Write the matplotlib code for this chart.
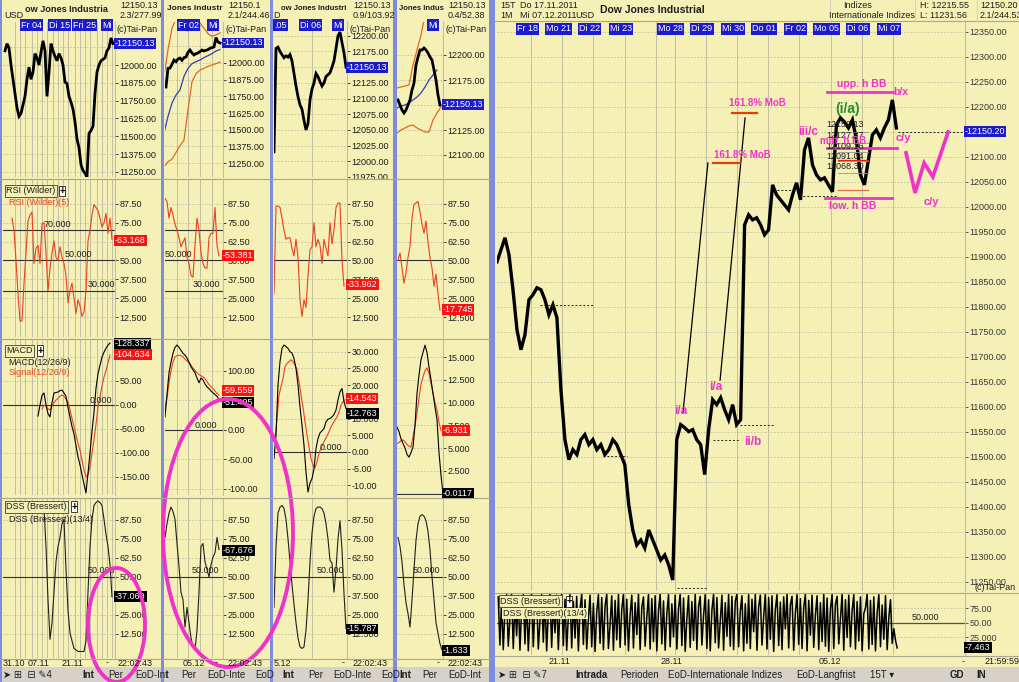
import matplotlib
matplotlib.use('Agg')
import matplotlib.pyplot as plt
from matplotlib.patches import Ellipse, Rectangle
import numpy as np

plt.rcParams['font.family'] = ['Liberation Sans', 'DejaVu Sans']

# ---------------- data ----------------
# column 1 (long intraday view)
c1_price = [12100, 12150, 12120, 12000, 11900, 11800, 11700, 11640, 11660, 11720, 11780, 11900, 11985, 11900,
            11950, 12080, 12050, 12000, 12090, 12170, 12100, 11780, 11950, 12150, 12100, 12060, 12030, 12080,
            12050, 12000, 11880, 11870, 11780, 11740, 11690, 11600, 11480, 11420, 11300, 11260, 11240, 11215,
            11520, 11540, 11570, 11800, 11950, 12000, 12030, 12040, 12050, 12100, 12120, 12190, 12150]
c1_rsi = [78, 70, 50, 28, 10, 10, 35, 55, 76, 80, 82, 48, 58, 60, 48, 74, 75, 55, 30, 45, 55, 63, 52, 50, 59,
          52, 48, 40, 22, 30, 35, 25, 15, 24, 20, 13, 16, 30, 63, 70, 80, 87, 85, 83, 78, 72, 75, 81, 68, 78, 64]
c1_macd = [-23, 0, 20, 25, 0, -18, -25, 5, 25, 26, 27, 30, 31, 25, 18, -5, -25, -45, -60, -85, -108, -125,
           -145, -165, -183, -142, -100, -55, -15, 35, 65, 83, 100, 110, 118, 125, 129]
c1_signal = [-8, 0, -3, -8, -10, -2, 5, 10, 14, 18, 21, 18, 12, 6, -10, -28, -45, -62, -80, -94, -115, -135,
             -150, -145, -129, -100, -72, -40, -5, 17, 40, 58, 72, 88, 104]
c1_dss = [95, 70, 35, 9, 20, 40, 60, 70, 76, 85, 88, 55, 28, 13, 8, 3, 2, 1, 1, 1, 1, 8, 40, 70, 88, 97, 99,
          100, 99, 97, 88, 78, 70, 58, 37]

# column 2
c2_price = [11820, 11960, 11962, 11990, 12022, 12010, 12030, 12037, 12020, 12040, 12045, 12080, 12097, 12075,
            12060, 12070, 12075, 12085, 12097, 12090, 12095, 12100, 12110, 12115, 12120, 12190, 12157, 12150]
c2_ma = [11476, 11600, 11700, 11760, 11798, 11900, 11960, 11995, 12010, 12022, 12040, 12055, 12070, 12090, 12100]
c2_lower = [11221, 11260, 11280, 11330, 11380, 11423, 11648, 11860, 11920, 11947, 11960, 11975, 11985, 11995, 12007]
c2_upper = [11895, 12100, 12260, 12330, 12320, 12250, 12240, 12280, 12320, 12300, 12260, 12220, 12200, 12210, 12225]
c2_rsi = [91, 89, 78, 85, 80, 74, 70, 65, 59, 62, 65, 52, 48, 40, 39, 60, 78, 70, 55, 48, 45, 45, 65, 68, 68,
          85, 60, 53]
c2_macd = [22, 60, 97, 115, 130, 140, 144, 140, 135, 130, 127, 122, 115, 107, 102, 97, 88, 80, 88, 85, 78, 73,
           70, 66, 63, 60, 57, 52]
c2_signal = [34, 55, 80, 100, 115, 124, 126, 127, 126, 124, 120, 117, 114, 110, 105, 101, 97, 94, 92, 90, 87,
             82, 77, 73, 70, 66, 62, 59]
c2_dss = [76, 85, 92, 96, 93, 88, 72, 57, 40, 35, 17, 30, 20, 10, 4, 2, 15, 40, 70, 72, 60, 55, 50, 58, 63, 66,
          76, 68]

# column 3
c3_price = [12015, 12180, 12182, 12175, 12170, 12165, 12168, 12166, 12170, 12160, 12140, 12120, 12103, 12090,
            12083, 12065, 12050, 12060, 12098, 12115, 12125, 12140, 12135, 12127, 12120, 12125, 12135, 12138,
            12141, 12150, 12160, 12180, 12200, 12206, 12189, 12173, 12150]
c3_rsi = [28, 86, 86, 85, 78, 70, 64, 65, 65, 58, 53, 64, 52, 24, 13, 24, 19, 40, 57, 59, 75, 59, 64, 60, 48,
          64, 58, 53, 75, 61, 70, 85, 88, 88, 50, 33]
c3_macd = [-2, 5, 20, 27, 31, 32, 31.5, 31, 30, 29.6, 28, 25, 20, 13.5, 8, 2, -6, -12, -9.3, -8, -5, 1, 4, 5.7,
           6.3, 7, 9, 9.8, 10, 10.5, 11.2, 12.5, 15.6, 18, 19, 15, 13]
c3_signal = [3.6, 10, 17, 19.5, 22, 25.5, 26.5, 27, 27.6, 27, 26, 24.6, 21, 17, 13.5, 9, 5, 1.5, -2, -4, -4.8,
             -3, -0.3, 1, 2.5, 3.6, 4.8, 6, 7.5, 8.5, 9.5, 10.5, 12, 14, 15, 15.6]
c3_dss = [30, 70, 92, 96, 97, 95, 88, 75, 60, 45, 32, 20, 10, 4, 3, 4, 15, 35, 60, 79, 90, 95, 96, 96, 95, 92,
          85, 75, 61, 59, 40, 55, 75, 87, 68, 39, 16]

# column 4
c4_price = [12155, 12150, 12145, 12142, 12145, 12150, 12155, 12165, 12172, 12190, 12198, 12205, 12205, 12207,
            12205, 12202, 12198, 12195, 12185, 12175, 12160, 12150]
c4_ma = [12147, 12149, 12150, 12152, 12155, 12158, 12162, 12168, 12175, 12180, 12185]
c4_upper = [12167, 12168, 12169, 12170, 12190, 12205, 12220, 12240]
c4_lower = [12122, 12125, 12127, 12129, 12130, 12127, 12125, 12123, 12123, 12135, 12142, 12148]
c4_rsi = [50, 55, 45, 35, 42, 52, 59, 78, 87, 88, 89, 82, 74, 68, 76, 62, 52, 45, 33, 41, 28, 17]
c4_macd = [7.3, 6.8, 6.0, 5.5, 5.0, 4.3, 4.0, 4.5, 5.1, 7.5, 11, 13, 14.7, 15.5, 16.3, 15.5, 13.9, 12.5, 11,
           9.5, 8.1, 4.5, 2.0, 0]
c4_signal = [5.5, 5.6, 5.8, 5.9, 5.7, 5.4, 5.2, 5.1, 6.2, 7.5, 8.8, 10.5, 12.0, 12.8, 13.5, 13.8, 13.2, 12.1,
             11.0, 10.0, 9.2, 7.8, 6.9]
c4_dss = [76, 70, 60, 45, 33, 26, 17, 35, 55, 74, 85, 90, 91, 90, 87, 80, 68, 50, 35, 20, 13, 6, 2]

# big 15-minute chart (x in trading days, Fr 18 = 0)
big_price = [11890, 11914, 11938, 11904, 11834, 11754, 11714, 11744, 11814, 11824, 11838, 11834, 11814, 11784,
             11804, 11778, 11634, 11534, 11494, 11514, 11504, 11534, 11544, 11524, 11534, 11514, 11524, 11504,
             11514, 11534, 11524, 11504, 11484, 11403, 11353, 11323, 11333, 11317, 11353, 11333, 11313, 11293,
             11303, 11283, 11253, 11534, 11564, 11558, 11550, 11554, 11534, 11524, 11464, 11554, 11614, 11604,
             11618, 11594, 11574, 11604, 11564, 11574, 11964, 11984, 11974, 11978, 11964, 11944, 11954, 12044,
             12024, 12014, 12004, 11994, 12024, 12048, 12014, 12114, 12138, 12084, 12064, 12054, 12058, 12044,
             12030, 12164, 12178, 12170, 12158, 12174, 12134, 12064, 12044, 12094, 12144, 12154, 12138, 12158,
             12174, 12214, 12158]
big_dss = [95, 12, 90, 4, 72, 99, 10, 58, 100, 6, 88, 28, 97, 3, 76, 99, 14, 92, 2, 66,
           100, 9, 82, 96, 5, 54, 99, 17, 93, 2, 70, 100, 8, 86, 33, 98, 4, 79, 100, 11,
           91, 3, 62, 99, 7, 87, 24, 96, 2, 74, 100, 13, 90, 5, 57, 98, 9, 84, 1, 69,
           99, 15, 94, 4, 80, 100, 6, 47, 97, 3, 89, 21, 99, 8, 73, 100, 12, 91, 2, 64,
           98, 7, 85, 30, 100, 4, 77, 95, 10, 60, 99, 5, 92, 18, 97, 2, 71, 100, 14, 88,
           3, 66, 99, 9, 83, 26, 98, 5, 75, 100, 11, 93, 1, 58, 97, 8, 87, 20, 100, 4,
           79, 96, 12, 63, 99, 6, 90, 2, 72, 100, 16, 94, 7, 52, 98, 3, 85, 27, 99, 10,
           96, 4, 88, 100, 9, 70, 97, 2, 83, 15, 99, 6, 91, 35, 100, 3, 78, 98, 12, 61,
           100, 5, 94, 22, 97, 1, 73, 99, 11, 86, 4, 95, 40, 100, 7, 81, 96, 3, 68, 99,
           13, 92, 6, 77, 100, 2, 89, 29, 98, 8, 64, 97, 4, 85, 18, 100, 10, 93, 1, 74,
           99, 6, 82, 96, 14, 57, 100, 3, 90, 25, 98, 9, 71, 99, 5, 87, 19, 95, 2, 66,
           76, 100, 5, 89, 13, 95, 2, 68, 99, 9, 81, 22, 97, 4, 60, 90, 15, 40, 20, 7]
big_days = ['Fr 18', 'Mo 21', 'Di 22', 'Mi 23', 'Mo 28', 'Di 29', 'Mi 30', 'Do 01', 'Fr 02', 'Mo 05',
            'Di 06', 'Mi 07']
big_day_starts = [0, 1, 2, 3, 4.6, 5.6, 6.6, 7.6, 8.6, 9.6, 10.6, 11.6]
big_grid_days = [0, 1, 2, 3, 4, 4.6, 5.6, 6.6, 7.6, 8.6, 9.6, 10.6, 11.6]
fib_levels = [12150.13, 12127.87, 12109.16, 12091.04, 12068.30]
mob_levels = [12188, 12088]
bb_upper, bb_mid, bb_lower = 12230, 12118, 12018
w_path_x = [12.02, 12.31, 12.60, 12.88, 13.37]
w_path_y = [12108, 12028, 12088, 12060, 12150]

rsi_ticks = [87.5, 75, 62.5, 50, 37.5, 25, 12.5]
rsi_labels = ['87.50', '75.00', '62.50', '50.00', '37.500', '25.000', '12.500']

# ---------------- style ----------------
W, H = 1019, 682
BG = '#f4f0b6'
GRID = '#c2bea4'
TXT = '#1e1e1e'
RED = '#e8421e'
SEP = '#7e8ce0'
MAG = '#f032c8'
BLUEBOX = '#1c1ccc'
FS = 6.5

fig = plt.figure(figsize=(W / 100, H / 100), dpi=100, facecolor=BG)


def px_axes(x0, y0, x1, y1, z=1):
    return fig.add_axes([x0 / W, 1 - y1 / H, (x1 - x0) / W, (y1 - y0) / H], zorder=z)


def hide(labels, ticks, hidden):
    return ['' if tk in hidden else lb for tk, lb in zip(ticks, labels)]


def panel(x0, y0, x1, y1, xlim, ylim, ticks, labels, vlines):
    ax = px_axes(x0, y0, x1, y1)
    ax.set_facecolor(BG)
    ax.set_xlim(*xlim)
    ax.set_ylim(*ylim)
    for s in ('top', 'left', 'bottom'):
        ax.spines[s].set_visible(False)
    ax.spines['right'].set_color(GRID)
    ax.spines['right'].set_linewidth(0.8)
    ax.set_xticks([])
    ax.yaxis.tick_right()
    ax.set_yticks(ticks)
    ax.set_yticklabels(labels)
    ax.tick_params(axis='y', length=2, width=0.6, pad=1, labelsize=FS, colors=TXT)
    for v in vlines:
        ax.axvline(v, color=GRID, lw=0.7, zorder=0)
    for tk in ticks:
        ax.axhline(tk, color=GRID, lw=0.6, ls=(0, (2, 2)), zorder=0)
    return ax


def xs(start, step, vals):
    return start + step * np.arange(len(vals))


def vbox(ax, y, txt, fc):
    ax.text(1.0, y, txt, transform=ax.get_yaxis_transform(), ha='left', va='center', fontsize=FS,
            color='white', bbox=dict(boxstyle='square,pad=0.1', fc=fc, ec='none'), clip_on=False, zorder=6)


def legend_box(ax, x, y, txt, plus_px):
    ax.text(x, y, txt, transform=ax.transAxes, fontsize=FS, color=TXT, va='center', ha='left',
            bbox=dict(boxstyle='square,pad=0.15', fc=BG, ec='#404040', lw=0.6), zorder=6)
    ax.annotate('+', xy=(x, y), xycoords='axes fraction', xytext=(plus_px, 0), textcoords='offset pixels',
                fontsize=7, fontweight='bold', va='center', ha='left', zorder=6,
                bbox=dict(boxstyle='square,pad=0.05', fc='white', ec='#202020', lw=0.6))


PY = (22, 177)
RY = (180, 337)
MY = (340, 495)
DY = (499, 658)

columns = [
    dict(x=(3, 115), pylim=(11214, 12302), pticks=[12125, 12000, 11875, 11750, 11625, 11500, 11375, 11250],
         phide=[12125], price=(5, 2, c1_price), rsi=(12, 2, c1_rsi), macd=(38, 2, c1_macd), sig=(42, 2, c1_signal),
         dss=(44, 2, c1_dss), mylim=(-187.5, 135.4),
         mticks=[100, 50, 0, -50, -100, -150], mlabels=['100.00', '50.00', '0.00', '-50.00', '-100.00', '-150.00'],
         mhide=[100], rhide=[62.5], dhide=[37.5],
         vlines=[15, 20, 25, 32, 37, 42, 47, 53, 58, 63, 68, 75, 80, 85, 90, 97, 102, 107, 112],
         rsi_levels=[70, 50, 30], rsi_lab=[(44, 70, '70.000'), (65, 50, '50.000'), (88, 30, '30.000')],
         mlab=90, dlab=88, pbox=12150.13, rbox=(63.168, '-63.168'),
         mbox=[(128.337, '-128.337', 'black'), (104.634, '-104.634', 'red')], dbox=(37.069, '-37.069'),
         legends=True),
    dict(x=(165, 223), pylim=(11146, 12307), pticks=[12125, 12000, 11875, 11750, 11625, 11500, 11375, 11250],
         phide=[12125], price=(166, 2, c2_price), rsi=(165, 2, c2_rsi), macd=(165, 2, c2_macd),
         sig=(165, 2, c2_signal), dss=(165, 2, c2_dss), mylim=(-110.2, 152.5),
         mticks=[100, 50, 0, -50, -100], mlabels=['100.00', '50.00', '0.00', '-50.00', '-100.00'],
         mhide=[50], rhide=[], dhide=[],
         vlines=[177, 188, 200, 212], rsi_levels=[70, 50, 30],
         rsi_lab=[(165, 50, '50.000'), (193, 30, '30.000')], mlab=195, dlab=192, pbox=12150.13,
         rbox=(53.381, '-53.381'), mbox=[(67, '-59.559', 'red'), (46, '-51.495', 'black')],
         dbox=(67.676, '-67.676'), legends=False,
         bands=[(164, 4, c2_upper, '#e06a20'), (164, 4, c2_lower, '#e06a20'), (164, 4, c2_ma, '#3040b0')]),
    dict(x=(274, 347), pylim=(11977, 12222),
         pticks=[12200, 12175, 12150, 12125, 12100, 12075, 12050, 12025, 12000, 11975], phide=[12150],
         price=(274, 2, c3_price), rsi=(274, 2, c3_rsi), macd=(274, 2, c3_macd), sig=(275, 2, c3_signal),
         dss=(274, 2, c3_dss), mylim=(-12.9, 33.5),
         mticks=[30, 25, 20, 15, 10, 5, 0, -5, -10],
         mlabels=['30.000', '25.000', '20.000', '15.000', '10.000', '5.000', '0.00', '-5.00', '-10.00'],
         mhide=[15], rhide=[], dhide=[],
         vlines=[312], rsi_levels=[50], rsi_lab=[], mlab=320, dlab=317, pbox=12150.13,
         rbox=(33.962, '-33.962'), mbox=[(16.0, '-14.543', 'red'), (11.6, '-12.763', 'black')],
         dbox=(15.787, '-15.787'), legends=False),
    dict(x=(397, 443), pylim=(12078, 12233), pticks=[12200, 12175, 12150, 12125, 12100], phide=[12150],
         price=(398, 2, c4_price), rsi=(398, 2, c4_rsi), macd=(397, 2, c4_macd), sig=(397, 2, c4_signal),
         dss=(398, 2, c4_dss), mylim=(-0.16, 16.87),
         mticks=[15, 12.5, 10, 7.5, 5, 2.5, 0],
         mlabels=['15.000', '12.500', '10.000', '7.500', '5.000', '2.500', '0.00'],
         mhide=[0], rhide=[], dhide=[],
         vlines=[], rsi_levels=[50], rsi_lab=[], mlab=None, dlab=413, pbox=12150.13,
         rbox=(17.745, '-17.745'), mbox=[(6.931, '-6.931', 'red'), (-0.0117, '-0.0117', 'black')],
         dbox=(1.633, '-1.633'), legends=False,
         bands=[(397, 4, c4_upper, '#e06a20'), (397, 4, c4_lower, '#e06a20'), (397, 4, c4_ma, '#3040b0')]),
]

for c in columns:
    x0, x1 = c['x']
    xl = (x0, x1)
    # price
    plabels = hide(['%.2f' % tk for tk in c['pticks']], c['pticks'], c['phide'])
    ax = panel(x0, PY[0], x1, PY[1], xl, c['pylim'], c['pticks'], plabels, c['vlines'])
    for st, sp, vals, col in c.get('bands', []):
        ax.plot(xs(st, sp, vals), vals, color=col, lw=0.9)
    st, sp, vals = c['price']
    ax.plot(xs(st, sp, vals), vals, color='black', lw=2.0, solid_joinstyle='miter')
    vbox(ax, c['pbox'], '-12150.13', BLUEBOX)
    # rsi
    ax = panel(x0, RY[0], x1, RY[1], xl, (-0.6, 103.2), rsi_ticks, hide(rsi_labels, rsi_ticks, c['rhide']),
               c['vlines'])
    for lv in c['rsi_levels']:
        ax.axhline(lv, color='#303030', lw=0.8)
    for lx, ly, lt in c['rsi_lab']:
        ax.text(lx, ly + 1, lt, fontsize=FS, color=TXT, va='bottom')
    st, sp, vals = c['rsi']
    ax.plot(xs(st, sp, vals), vals, color=RED, lw=0.8)
    vbox(ax, c['rbox'][0], c['rbox'][1], '#ff1010')
    if c['legends']:
        legend_box(ax, 0.03, 0.93, 'RSI (Wilder)', 53)
        ax.text(0.05, 0.855, 'RSI (Wilder)(5)', transform=ax.transAxes, fontsize=FS, color=RED, va='center')
    # macd
    ax = panel(x0, MY[0], x1, MY[1], xl, c['mylim'], c['mticks'], hide(c['mlabels'], c['mticks'], c['mhide']),
               c['vlines'])
    ax.axhline(0, color='#303030', lw=0.8)
    if c['mlab'] is not None:
        ax.text(c['mlab'], 0, '0.000', fontsize=FS, color=TXT, va='bottom')
    st, sp, vals = c['sig']
    ax.plot(xs(st, sp, vals), vals, color=RED, lw=0.8)
    st, sp, vals = c['macd']
    ax.plot(xs(st, sp, vals), vals, color='black', lw=0.8)
    for yv, txt, fc in c['mbox']:
        vbox(ax, yv, txt, '#ff1010' if fc == 'red' else 'black')
    if c['legends']:
        legend_box(ax, 0.03, 0.93, 'MACD', 31)
        ax.text(0.05, 0.855, 'MACD(12/26/9)', transform=ax.transAxes, fontsize=FS, color=TXT, va='center')
        ax.text(0.05, 0.79, 'Signal(12/26/9)', transform=ax.transAxes, fontsize=FS, color=RED, va='center')
    # dss
    ax = panel(x0, DY[0], x1, DY[1], xl, (-3.3, 101.3), rsi_ticks, hide(rsi_labels, rsi_ticks, c['dhide']),
               c['vlines'])
    ax.axhline(50, color='#303030', lw=0.8)
    ax.text(c['dlab'], 51, '50.000', fontsize=FS, color=TXT, va='bottom')
    st, sp, vals = c['dss']
    ax.plot(xs(st, sp, vals), vals, color='#202020', lw=0.8)
    vbox(ax, c['dbox'][0], c['dbox'][1], 'black')
    if c['legends']:
        legend_box(ax, 0.03, 0.95, 'DSS (Bressert)', 65)
        ax.text(0.05, 0.87, 'DSS (Bressert)(13/4)', transform=ax.transAxes, fontsize=FS, color=TXT, va='center')

# ---------------- big chart ----------------
BX = (-1.09, 13.91)
big_ticks = list(range(12350, 11240, -50))
axb = panel(497, 22, 965, 591, BX, (11231, 12370), big_ticks,
            hide(['%.2f' % tk for tk in big_ticks], big_ticks, [12150]), big_grid_days)
axb.tick_params(axis='y', colors='#3a3a3a')
axb.plot(xs(-1.09, 0.128, big_price), big_price, color='black', lw=2.4, solid_joinstyle='miter')

dash = (0, (2, 2))
support = [(0.29, 1.99, 11804), (2.31, 3.08, 11501), (4.68, 5.67, 11237), (5.83, 6.70, 11533),
           (6.70, 7.76, 11563), (7.88, 8.72, 12034), (8.72, 9.84, 12022), (11.76, 13.91, 12150)]
for a, b, lv in support:
    axb.plot([a, b], [lv, lv], color='#202020', lw=0.7, ls=dash)

# projection lines + 161.8% MoB targets
axb.plot([4.87, 5.67], [11587, mob_levels[1]], color='black', lw=0.9)
axb.plot([6.06, 6.86], [11653, 12178], color='black', lw=0.9)
axb.plot([6.44, 7.24], [mob_levels[0]] * 2, color='#e04010', lw=1.6)
axb.plot([5.83, 6.70], [mob_levels[1]] * 2, color='#e04010', lw=1.6)
axb.text(7.24, 12208, '161.8% MoB', color=MAG, fontsize=7, fontweight='bold', ha='center', va='center')
axb.text(6.76, 12104, '161.8% MoB', color=MAG, fontsize=7, fontweight='bold', ha='center', va='center')

# fibonacci levels near (i/a)
for lv in fib_levels:
    axb.plot([9.84, 10.8], [lv, lv], color='#8a9a8a', lw=0.6)
axb.plot([9.84, 10.8], [12094, 12094], color='#e02010', lw=0.9)
axb.plot([9.84, 10.8], [12034, 12034], color='#e07050', lw=0.9)
for lv, yy in zip(fib_levels, [12164, 12142, 12120, 12100, 12080]):
    axb.text(9.45, yy, '%.2f' % lv, fontsize=6.5, color=TXT, va='center', ha='left')

# Bollinger band annotations
axb.plot([9.49, 11.6], [bb_upper] * 2, color=MAG, lw=2)
axb.plot([9.49, 11.73], [bb_mid] * 2, color=MAG, lw=2)
axb.plot([9.42, 11.57], [bb_lower] * 2, color=MAG, lw=2)
axb.text(10.61, 12246, 'upp. h BB', color=MAG, fontsize=7.5, fontweight='bold', ha='center', va='center')
axb.text(10.0, 12132, 'mitt. h BB', color=MAG, fontsize=7, fontweight='bold', ha='center', va='center')
axb.text(10.3, 12002, 'low. h BB', color=MAG, fontsize=7.5, fontweight='bold', ha='center', va='center')
axb.text(11.86, 12230, 'b/x', color=MAG, fontsize=7.5, fontweight='bold', ha='center', va='center')
axb.text(11.92, 12138, 'c/y', color=MAG, fontsize=8, fontweight='bold', ha='center', va='center')
axb.text(12.82, 12010, 'c/y', color=MAG, fontsize=8, fontweight='bold', ha='center', va='center')
axb.plot(w_path_x, w_path_y, color=MAG, lw=2.6, solid_joinstyle='miter')

# wave labels
axb.text(4.81, 11592, 'i/a', color=MAG, fontsize=8.5, fontweight='bold', ha='center', va='center')
axb.text(5.93, 11640, 'i/a', color=MAG, fontsize=8.5, fontweight='bold', ha='center', va='center')
axb.text(7.12, 11529, 'ii/b', color=MAG, fontsize=8.5, fontweight='bold', ha='center', va='center')
axb.text(8.88, 12150, 'iii/c', color=MAG, fontsize=8.5, fontweight='bold', ha='center', va='center')
axb.text(10.16, 12196, '(i/a)', color='#22902a', fontsize=10, fontweight='bold', ha='center', va='center')

vbox(axb, 12150.20, '-12150.20', BLUEBOX)
for d, x in zip(big_days, big_day_starts):
    axb.text(x - 0.12, 12356, d, fontsize=FS, color='white', ha='center', va='center',
             bbox=dict(boxstyle='square,pad=0.12', fc=BLUEBOX, ec='none'))

# big DSS panel
axd = panel(497, 594, 965, 655, BX, (-5.2, 100), [75, 50, 25], ['75.00', '50.00', '25.000'], big_grid_days)
axd.tick_params(axis='y', colors='#3a3a3a')
axd.axhline(50, color='#505050', lw=0.9)
axd.text(12.2, 51, '50.000', fontsize=FS, color=TXT, va='bottom')
axd.plot(xs(-1.05, 0.0535, big_dss), big_dss, color='black', lw=1.1)
vbox(axd, 7.463, '-7.463', 'black')
legend_box(axd, 0.007, 0.88, 'DSS (Bressert)', 66)
axd.text(0.012, 0.68, 'DSS (Bressert)(13/4)', transform=axd.transAxes, fontsize=FS, color=TXT, va='center',
         bbox=dict(boxstyle='square,pad=0.1', fc=BG, ec='none'))

# ---------------- overlay (frames, headers, footers) ----------------
ov = fig.add_axes([0, 0, 1, 1], zorder=10)
ov.set_xlim(0, W)
ov.set_ylim(H, 0)
ov.set_facecolor('none')
ov.axis('off')


def t(x, y, s, **kw):
    kw.setdefault('fontsize', FS)
    kw.setdefault('color', TXT)
    kw.setdefault('va', 'center')
    ov.text(x, y, s, **kw)


# panel separators
for y in (178.5, 338.5, 497.5, 659):
    ov.plot([0, 490], [y, y], color='#aaa690', lw=0.8)
for y in (21, 592.5, 656):
    ov.plot([495, W], [y, y], color='#aaa690', lw=0.8)
for a, b in ((0, 2), (161, 164), (270, 273), (393, 397), (489, 495)):
    ov.add_patch(Rectangle((a, 0), b - a, H, fc=SEP, ec='none'))

# tab bar
ov.add_patch(Rectangle((0, 667), W, 15, fc='#d6d2ca', ec='none'))
for a, b in ((0, 2), (161, 164), (270, 273), (393, 397), (489, 495)):
    ov.add_patch(Rectangle((a, 667), b - a, 15, fc=SEP, ec='none'))
tabs = [(3, '\u27a4 \u229e  \u229f \u270e4', False), (82, 'Int', True), (108, 'Per', False), (135, 'EoD-Int', False),
        (166, 't', False), (181, 'Per', False), (207, 'EoD-Inte', False), (255, 'EoD', False),
        (282, 'Int', True), (308, 'Per', False), (333, 'EoD-Inte', False), (381, 'EoD', False),
        (399, 'Int', True), (422, 'Per', False), (448, 'EoD-Int', False),
        (498, '\u27a4 \u229e  \u229f \u270e7', False), (575, 'Intrada', True), (620, 'Perioden', False),
        (668, 'EoD-Internationale Indizes', False), (796, 'EoD-Langfrist', False), (870, '15T \u25be', False),
        (950, 'GD', True), (976, 'IN', True)]
for x, s, b in tabs:
    t(x, 675, s, fontsize=7, fontweight='bold' if b else 'normal', color='#202020')

# left headers
heads = [(25, 'ow Jones Industria', 6.6, 120, '12150.13', '2.3/277.99', 117),
         (167, 'Jones Industr', 6.0, 228, '12150.1', '2.1/244.46', 226),
         (281, 'ow Jones Industri', 5.6, 353, '12150.13', '0.9/103.92', 350),
         (399, 'Jones Indus', 5.6, 448, '12150.13', '0.4/52.38', 446)]
for hx, title, tfs, vx, v1, v2, cx in heads:
    t(hx, 9, title, fontsize=tfs, fontweight='bold')
    t(vx, 5, v1)
    t(vx, 16, v2)
    t(cx, 30, '(c)Tai-Pan')
t(4, 16, 'USD')
t(273, 16, 'D')
for x, s in [(21, 'Fr 04'), (49, 'Di 15'), (73, 'Fri 25'), (102, 'Mi'), (178, 'Fr 02'), (208, 'Mi'),
             (274, '.05'), (300, 'Di 06'), (333, 'Mi'), (428, 'Mi')]:
    t(x, 25, s, color='white', bbox=dict(boxstyle='square,pad=0.12', fc=BLUEBOX, ec='none'))

# left footer time labels
for x, s in [(3, '31.10'), (28, '07.11'), (62, '21.11'), (106, '-'), (118, '22:02:43'),
             (183, '05.12'), (215, '-'), (228, '22:02:43'), (274, '5.12'), (342, '-'), (353, '22:02:43'),
             (437, '-'), (448, '22:02:43')]:
    t(x, 663, s)

# big chart header + footer
t(500, 5, '15T')
t(520, 5, 'Do 17.11.2011')
t(500, 16, '1M')
t(520, 16, 'Mi 07.12.2011')
t(575, 16, 'USD')
t(600, 10, 'Dow Jones Industrial', fontsize=7.5, fontweight='bold')
t(858, 5, 'Indizes', ha='center')
t(872, 16, 'Internationale Indizes', ha='center')
t(920, 5, 'H: 12215.55')
t(920, 16, 'L: 11231.56')
t(980, 5, '12150.20')
t(980, 16, '2.1/244.53')
for x in (830, 915, 977):
    ov.plot([x, x], [0, 21], color='#d8d4b8', lw=0.8)
t(975, 587, '(c)Tai-Pan')
for x, s in [(560, '21.11'), (672, '28.11'), (830, '05.12'), (962, '-'), (985, '21:59:59')]:
    t(x, 662, s, ha='center' if x < 960 else 'left')

# hand-drawn highlight ellipses
ov.add_patch(Ellipse((116.5, 625), 57, 114, fill=False, ec=MAG, lw=2.8))
ov.add_patch(Ellipse((228, 533), 130, 268, fill=False, ec=MAG, lw=2.8))

fig.savefig('out.png', dpi=100, facecolor=BG)
